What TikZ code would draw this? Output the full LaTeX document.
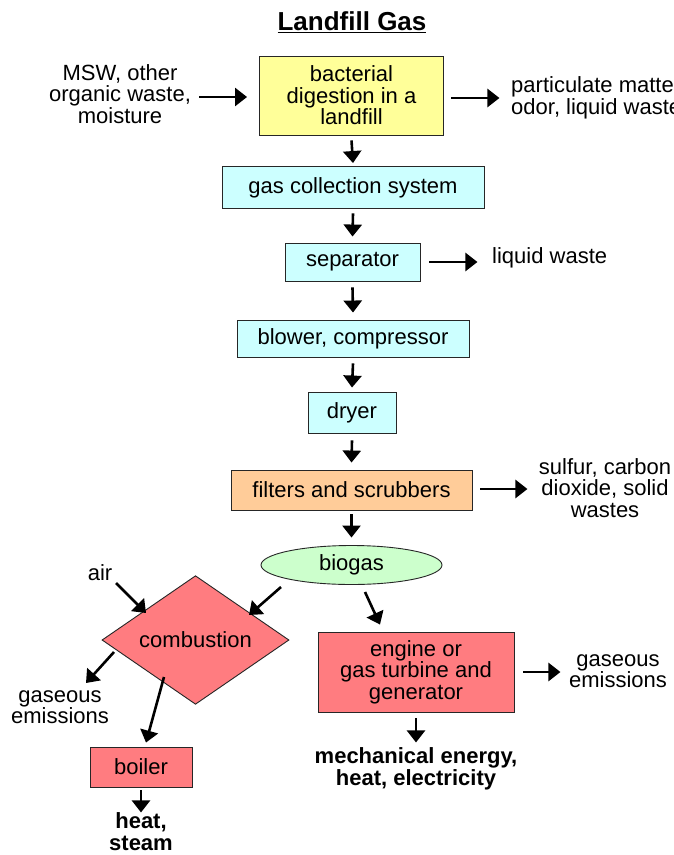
\documentclass[tikz,border=0pt]{standalone}
\usepackage{fontspec}
\setmainfont{Liberation Sans}
\usetikzlibrary{arrows.meta,shapes.geometric,calc}
\definecolor{cyanbox}{HTML}{CCFFFF}
\definecolor{yellowbox}{HTML}{FFFF99}
\definecolor{orangebox}{HTML}{FFCC99}
\definecolor{greenbox}{HTML}{CCFFCC}
\definecolor{redbox}{HTML}{FF7C80}
\definecolor{edge}{HTML}{262626}
\begin{document}
\begin{tikzpicture}[x=1pt,y=-1pt,
  txt/.style={font=\fontsize{22}{21.5}\selectfont, align=center, inner sep=0pt, text=black},
  btxt/.style={font=\fontsize{22}{22}\selectfont\bfseries, align=center, inner sep=0pt, text=black},
  box/.style={txt, draw=edge, line width=0.9pt},
  arr/.style={line width=2.6pt, -{Triangle[length=12pt,width=18pt]}}
]
\fill[white] (0,0) rectangle (674,855);
\useasboundingbox (0,0) rectangle (674,855);

% title
\node[font=\fontsize{26}{28}\selectfont\bfseries, inner sep=0pt] (title) at (352,22) {\underline{Landfill Gas}};

% main chain
\node[box, fill=yellowbox, minimum width=184pt, minimum height=79pt] (dig) at (351.5,95.5) {bacterial\\digestion in a\\landfill};
\node[box, fill=cyanbox, minimum width=262pt, minimum height=42pt] (gcs) at (353,187.5) {gas collection system};
\node[box, fill=cyanbox, minimum width=135pt, minimum height=38pt] (sep) at (352.5,262) {separator};
\node[box, fill=cyanbox, minimum width=232pt, minimum height=37pt] (blow) at (353,338.5) {blower, compressor};
\node[box, fill=cyanbox, minimum width=88pt, minimum height=41pt] (dry) at (352,412.5) {dryer};
\node[box, fill=orangebox, minimum width=241pt, minimum height=40pt] (filt) at (351.5,490) {filters and scrubbers};
\node[txt, draw=edge, line width=0.9pt, ellipse, fill=greenbox, minimum width=181pt, minimum height=39pt] (bio) at (351.5,565) {biogas};
\node[txt, draw=edge, line width=0.9pt, diamond, fill=redbox, minimum width=187pt, minimum height=94pt] (comb) at (195.5,640) {combustion};
\node[box, fill=redbox, minimum width=196pt, minimum height=80pt] (eng) at (416,672) {engine or\\gas turbine and\\generator};
\node[box, fill=redbox, minimum width=102pt, minimum height=40pt] (boil) at (141,767) {boiler};

% side texts
\node[txt] (msw) at (120,94) {MSW, other\\organic waste,\\moisture};
\node[txt, anchor=west] (pm) at (511,98) {particulate matter\\odor, liquid waste};
\node[txt, anchor=west] (lw) at (492,258) {liquid waste};
\node[txt] (sul) at (605,488) {sulfur, carbon\\dioxide, solid\\wastes};
\node[txt] (air) at (100,573) {air};
\node[txt] (gas1) at (60,707) {gaseous\\emissions};
\node[txt] (gas2) at (618,671) {gaseous\\emissions};
\node[btxt] (mech) at (416,769) {mechanical energy,\\heat, electricity};
\node[btxt] (heat) at (141,832) {heat,\\steam};

% arrows: vertical chain
\draw[arr] ([shift={(0,5)}]dig.south) -- ([shift={(0,-3)}]gcs.north);
\draw[arr] ([shift={(0,4.5)}]gcs.south) -- ([shift={(0,-6)}]sep.north);
\draw[arr] ([shift={(0,6)}]sep.south) -- ([shift={(0,-7)}]blow.north);
\draw[arr] ([shift={(0,6)}]blow.south) -- ([shift={(0,-4)}]dry.north);
\draw[arr] ([shift={(0,7)}]dry.south) -- ([shift={(0,-7)}]filt.north);
\draw[arr] ([shift={(0,4)}]filt.south) -- ([shift={(0,-7.5)}]bio.north);

% horizontal side arrows
\draw[arr] ([shift={(-60,1.5)}]dig.west) -- ([shift={(-12,1.5)}]dig.west);
\draw[arr] ([shift={(7.5,2.5)}]dig.east) -- ([shift={(55.5,2.5)}]dig.east);
\draw[arr] ([shift={(9,0)}]sep.east) -- ([shift={(57,0)}]sep.east);
\draw[arr] ([shift={(8,-1)}]filt.east) -- ([shift={(55,-1)}]filt.east);
\draw[arr] ([shift={(9,0)}]eng.east) -- ([shift={(46,0)}]eng.east);

% diagonal arrows
\draw[arr] ([shift={(16,10)}]air.center) -- ([shift={(-49.5,-27)}]comb.center);
\draw[arr] ([shift={(-70.5,22)}]bio.center) -- ([shift={(53.5,-25)}]comb.center);
\draw[arr] ([shift={(13.5,27)}]bio.center) -- ([shift={(-36,-7)}]eng.north);
\draw[arr] ([shift={(-81.5,12)}]comb.center) -- ([shift={(-109.5,43)}]comb.center);
\draw[arr] ([shift={(-31.5,37)}]comb.center) -- ([shift={(5,-4)}]boil.north);

% bottom arrows
\draw[arr] ([shift={(0,3)}]boil.south) -- ([shift={(0,25)}]boil.south);
\draw[arr] ([shift={(0,6)}]eng.south) -- ([shift={(0,30)}]eng.south);
\end{tikzpicture}
\end{document}
